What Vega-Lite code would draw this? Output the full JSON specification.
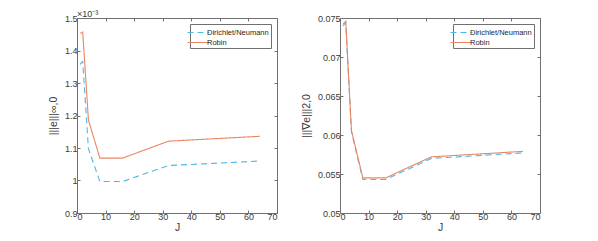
{
  "$schema": "https://vega.github.io/schema/vega-lite/v6.json",
  "padding": {"left": 47, "top": 9, "right": 0, "bottom": 0},
  "background": "white",
  "datasets": {
    "err": [
      {"J": 1, "method": "Dirichlet/Neumann", "panel": "inf", "value": 0.001357},
      {"J": 2, "method": "Dirichlet/Neumann", "panel": "inf", "value": 0.001366},
      {"J": 4, "method": "Dirichlet/Neumann", "panel": "inf", "value": 0.001098},
      {"J": 8, "method": "Dirichlet/Neumann", "panel": "inf", "value": 0.000997},
      {"J": 16, "method": "Dirichlet/Neumann", "panel": "inf", "value": 0.000997},
      {"J": 32, "method": "Dirichlet/Neumann", "panel": "inf", "value": 0.001046},
      {"J": 64, "method": "Dirichlet/Neumann", "panel": "inf", "value": 0.00106},
      {"J": 1, "method": "Robin", "panel": "inf", "value": 0.001452},
      {"J": 2, "method": "Robin", "panel": "inf", "value": 0.001457},
      {"J": 4, "method": "Robin", "panel": "inf", "value": 0.001186},
      {"J": 8, "method": "Robin", "panel": "inf", "value": 0.001069},
      {"J": 16, "method": "Robin", "panel": "inf", "value": 0.001069},
      {"J": 32, "method": "Robin", "panel": "inf", "value": 0.001121},
      {"J": 64, "method": "Robin", "panel": "inf", "value": 0.001136},
      {"J": 1, "method": "Dirichlet/Neumann", "panel": "grad", "value": 0.0740},
      {"J": 2, "method": "Dirichlet/Neumann", "panel": "grad", "value": 0.0744},
      {"J": 4, "method": "Dirichlet/Neumann", "panel": "grad", "value": 0.0604},
      {"J": 8, "method": "Dirichlet/Neumann", "panel": "grad", "value": 0.0543},
      {"J": 16, "method": "Dirichlet/Neumann", "panel": "grad", "value": 0.0543},
      {"J": 32, "method": "Dirichlet/Neumann", "panel": "grad", "value": 0.0570},
      {"J": 64, "method": "Dirichlet/Neumann", "panel": "grad", "value": 0.0577},
      {"J": 1, "method": "Robin", "panel": "grad", "value": 0.0742},
      {"J": 2, "method": "Robin", "panel": "grad", "value": 0.0746},
      {"J": 4, "method": "Robin", "panel": "grad", "value": 0.0606},
      {"J": 8, "method": "Robin", "panel": "grad", "value": 0.0545},
      {"J": 16, "method": "Robin", "panel": "grad", "value": 0.0545},
      {"J": 32, "method": "Robin", "panel": "grad", "value": 0.0572},
      {"J": 64, "method": "Robin", "panel": "grad", "value": 0.0579}
    ]
  },
  "config": {
    "font": "Liberation Sans",
    "view": {"stroke": "#707070", "strokeWidth": 1},
    "axis": {
      "grid": false,
      "domain": false,
      "tickColor": "#707070",
      "tickSize": -3,
      "labelFont": "Liberation Sans",
      "labelFontSize": 9,
      "labelColor": "#3a3a3a",
      "titleFont": "Liberation Sans",
      "titleFontSize": 10.5,
      "titleFontWeight": "normal",
      "titleColor": "#3a3a3a"
    },
    "legend": {
      "orient": "top-right",
      "offset": 6,
      "title": null,
      "strokeColor": "#707070",
      "fillColor": "white",
      "padding": 2,
      "rowPadding": 0,
      "labelFont": "Liberation Sans",
      "labelFontSize": 7.5,
      "labelColor": "#262626",
      "symbolType": "M-2,0H2",
      "symbolSize": 121,
      "symbolStrokeWidth": 1.1,
      "labelOffset": 2
    }
  },
  "hconcat": [
    {
      "width": 200,
      "height": 195,
      "title": {"text": "×10⁻³", "anchor": "start", "frame": "group", "fontSize": 9, "fontWeight": "normal", "color": "#3a3a3a", "offset": -5, "font": "Liberation Sans"},
      "data": {"name": "err"},
      "transform": [{"filter": "datum.panel === 'inf'"}],
      "layer": [
        {
          "mark": {"type": "line", "strokeWidth": 1.1},
          "encoding": {
            "x": {"field": "J", "type": "quantitative", "scale": {"domain": [0, 70], "nice": false}, "axis": {"values": [0, 10, 20, 30, 40, 50, 60, 70], "title": "J", "labelPadding": 2, "titlePadding": 1}},
            "y": {"field": "value", "type": "quantitative", "scale": {"domain": [0.0009, 0.0015], "nice": false, "zero": false}, "axis": {"values": [0.0009, 0.001, 0.0011, 0.0012, 0.0013, 0.0014, 0.0015], "labelExpr": "format(datum.value*1000, '~g')", "title": "|||e|||∞,0", "labelPadding": 3, "titlePadding": 6}},
            "color": {"field": "method", "type": "nominal", "scale": {"domain": ["Dirichlet/Neumann", "Robin"], "range": ["#4DB8EA", "#EB8560"]}},
            "strokeDash": {"field": "method", "type": "nominal", "scale": {"domain": ["Dirichlet/Neumann", "Robin"], "range": [[6, 4], [1, 0]]}}
          }
        },
        {
          "mark": {"type": "line", "opacity": 0},
          "encoding": {
            "x": {"field": "J", "type": "quantitative", "scale": {"domain": [0, 70], "nice": false}, "axis": {"orient": "top", "values": [0, 10, 20, 30, 40, 50, 60, 70], "labels": false, "title": null}},
            "y": {"field": "value", "type": "quantitative", "scale": {"domain": [0.0009, 0.0015], "nice": false, "zero": false}, "axis": {"orient": "right", "values": [0.0009, 0.001, 0.0011, 0.0012, 0.0013, 0.0014, 0.0015], "labels": false, "title": null}}
          }
        }
      ],
      "resolve": {"axis": {"x": "independent", "y": "independent"}}
    },
    {
      "width": 200,
      "height": 195,
      "data": {"name": "err"},
      "transform": [{"filter": "datum.panel === 'grad'"}],
      "layer": [
        {
          "mark": {"type": "line", "strokeWidth": 1.1},
          "encoding": {
            "x": {"field": "J", "type": "quantitative", "scale": {"domain": [0, 70], "nice": false}, "axis": {"values": [0, 10, 20, 30, 40, 50, 60, 70], "title": "J", "labelPadding": 2, "titlePadding": 1}},
            "y": {"field": "value", "type": "quantitative", "scale": {"domain": [0.05, 0.075], "nice": false, "zero": false}, "axis": {"values": [0.05, 0.055, 0.06, 0.065, 0.07, 0.075], "format": "~g", "title": "|||∇e|||2,0", "labelPadding": 3, "titlePadding": 6}},
            "color": {"field": "method", "type": "nominal", "scale": {"domain": ["Dirichlet/Neumann", "Robin"], "range": ["#4DB8EA", "#EB8560"]}},
            "strokeDash": {"field": "method", "type": "nominal", "scale": {"domain": ["Dirichlet/Neumann", "Robin"], "range": [[6, 4], [1, 0]]}}
          }
        },
        {
          "mark": {"type": "line", "opacity": 0},
          "encoding": {
            "x": {"field": "J", "type": "quantitative", "scale": {"domain": [0, 70], "nice": false}, "axis": {"orient": "top", "values": [0, 10, 20, 30, 40, 50, 60, 70], "labels": false, "title": null}},
            "y": {"field": "value", "type": "quantitative", "scale": {"domain": [0.05, 0.075], "nice": false, "zero": false}, "axis": {"orient": "right", "values": [0.05, 0.055, 0.06, 0.065, 0.07, 0.075], "labels": false, "title": null}}
          }
        }
      ],
      "resolve": {"axis": {"x": "independent", "y": "independent"}}
    }
  ],
  "resolve": {"scale": {"color": "independent", "strokeDash": "independent"}, "legend": {"color": "independent", "strokeDash": "independent"}},
  "spacing": 63,
  "bounds": "flush"
}
